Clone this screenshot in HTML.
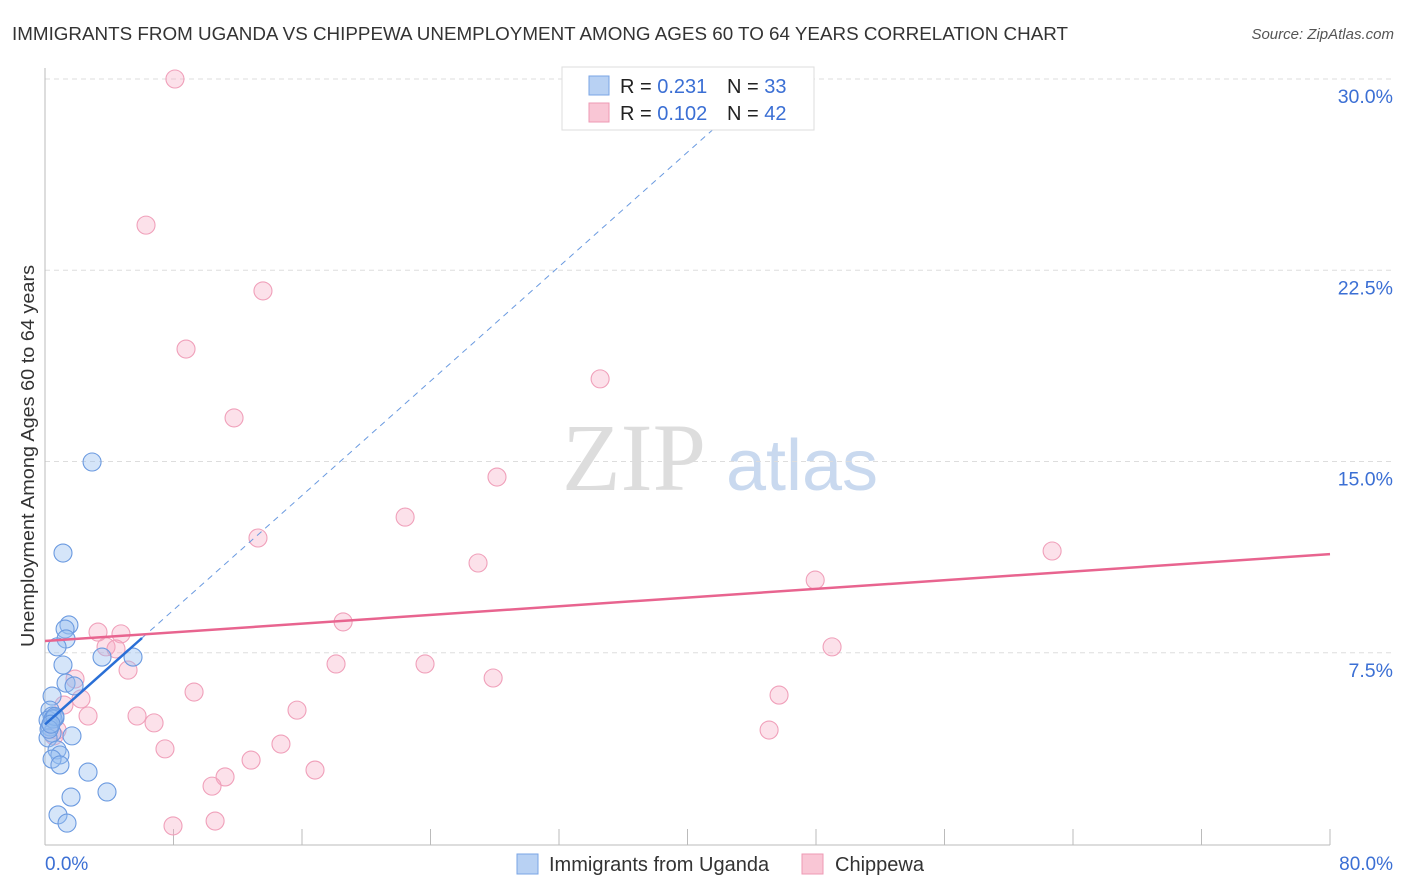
<!DOCTYPE html>
<html><head><meta charset="utf-8"><style>
body{margin:0;background:#fff;font-family:"Liberation Sans",sans-serif;}
svg{display:block}
</style></head><body>
<svg id="chart" width="1406" height="892" xmlns="http://www.w3.org/2000/svg">
<text x="12" y="40" font-size="18" fill="#333" textLength="1056" lengthAdjust="spacingAndGlyphs">IMMIGRANTS FROM UGANDA VS CHIPPEWA UNEMPLOYMENT AMONG AGES 60 TO 64 YEARS CORRELATION CHART</text>
<text x="1394" y="39" font-size="15" fill="#555" font-style="italic" text-anchor="end">Source: ZipAtlas.com</text>
<g>
<text x="634" y="490" font-size="96" fill="#ddd" font-family="Liberation Serif,serif" text-anchor="middle">ZIP</text>
<text x="802" y="490" font-size="72" fill="#c9d9ef" text-anchor="middle">atlas</text>
</g>
<g id="grid"></g>
<line x1="45" y1="68" x2="45" y2="845" stroke="#bbb"/>
<line x1="45" y1="845" x2="1330" y2="845" stroke="#bbb"/>
<text transform="translate(34,456) rotate(-90)" font-size="18" fill="#333" text-anchor="middle" textLength="382" lengthAdjust="spacingAndGlyphs">Unemployment Among Ages 60 to 64 years</text>
<text x="45" y="870" font-size="19" fill="#3b6fd4">0.0%</text>
<text x="1393" y="870" font-size="19" fill="#3b6fd4" text-anchor="end">80.0%</text>
<g id="marks"></g>
<g>
<rect x="562" y="67" width="252" height="63" fill="#fff" stroke="#ddd"/>
<rect x="589" y="76" width="20" height="19" fill="#b8d1f3" stroke="#7aa5e6"/>
<rect x="589" y="103" width="20" height="19" fill="#f9c6d5" stroke="#ee9ab4"/>
<text x="620" y="93" font-size="20" fill="#222">R = <tspan fill="#3b6fd4">0.231</tspan><tspan x="727">N = </tspan><tspan fill="#3b6fd4">33</tspan></text>
<text x="620" y="120" font-size="20" fill="#222">R = <tspan fill="#3b6fd4">0.102</tspan><tspan x="727">N = </tspan><tspan fill="#3b6fd4">42</tspan></text>
</g>
<g>
<rect x="517" y="854" width="21" height="20" fill="#b8d1f3" stroke="#7aa5e6"/>
<text x="549" y="871" font-size="20" fill="#333">Immigrants from Uganda</text>
<rect x="802" y="854" width="21" height="20" fill="#f9c6d5" stroke="#ee9ab4"/>
<text x="835" y="871" font-size="20" fill="#333">Chippewa</text>
</g>
</svg>
<script>
const yTicks=[7.5,15,22.5,30];
const yTickLabels=["7.5%","15.0%","22.5%","30.0%"];
const xTicks=[0,8,16,24,32,40,48,56,64,72,80];
const ugandaX=[2.93,1.12,1.49,1.25,1.31,0.75,1.12,3.55,5.48,1.31,1.81,0.44,0.31,0.44,0.62,0.19,0.31,0.44,0.19,1.68,0.75,0.93,0.44,0.93,2.68,3.86,1.62,0.81,1.37,0.5,0.62,0.25,0.37];
const ugandaY=[14.98,11.41,8.59,8.43,8.04,7.73,7.02,7.33,7.33,6.31,6.2,5.8,5.25,5.02,4.94,4.86,4.59,4.35,4.16,4.24,3.69,3.49,3.33,3.1,2.82,2.04,1.84,1.14,0.82,4.9,5.0,4.5,4.7];
const chipX=[8.09,6.29,13.57,8.78,11.77,34.56,28.14,22.42,13.26,26.96,62.7,47.95,18.56,3.3,4.73,3.8,4.42,5.17,49.0,18.12,23.66,27.9,1.87,9.28,2.24,45.7,1.18,2.68,5.73,6.79,15.69,0.75,0.56,45.08,7.47,14.69,12.83,11.21,10.4,16.81,7.97,10.59];
const chipY=[30.0,24.27,21.69,19.41,16.71,18.24,14.39,12.82,12.0,11.02,11.49,10.35,8.71,8.31,8.24,7.73,7.65,6.82,7.73,7.06,7.06,6.51,6.47,5.96,5.69,5.84,5.45,5.02,5.02,4.75,5.25,4.47,4.24,4.47,3.73,3.92,3.29,2.63,2.27,2.9,0.71,0.9];
const ugandaTrend=[4.69,0.561];
const chipTrend=[7.96,0.0426];
const NS="http://www.w3.org/2000/svg";
const sx=v=>45+v*16.0625, sy=v=>844-v*25.5;
const grid=document.getElementById('grid'), marks=document.getElementById('marks');
function mk(t,a,p){const e=document.createElementNS(NS,t);for(const k in a)e.setAttribute(k,a[k]);p.appendChild(e);return e;}
yTicks.forEach((t,i)=>{
 const l=mk('line',{x1:45,x2:1392,y1:sy(t),y2:sy(t),stroke:'#ddd','stroke-dasharray':'5,4'},grid);
 
 
 const tx=mk('text',{x:1393,y:sy(t)+24,'font-size':19.5,fill:'#3b6fd4','text-anchor':'end'},grid);
 tx.textContent=yTickLabels[i];
 
 
});
xTicks.forEach(t=>{
 const l=mk('line',{x1:sx(t),x2:sx(t),y1:829,y2:845,stroke:'#bbb'},grid);
 
 
});
chipX.forEach((x,i)=>{
 const c=mk('circle',{cx:sx(x),cy:sy(chipY[i]),r:9,fill:'rgba(246,170,195,0.35)',stroke:'#f0a0ba','stroke-width':1.1},marks);
 
 
});
ugandaX.forEach((x,i)=>{
 const c=mk('circle',{cx:sx(x),cy:sy(ugandaY[i]),r:9,fill:'rgba(150,190,240,0.4)',stroke:'#6b9ae0','stroke-width':1.1},marks);
 
 
});
const dash=mk('line',{x1:sx(6.04),y1:sy(ugandaTrend[0]+ugandaTrend[1]*6.04),x2:sx(45.1),y2:sy(ugandaTrend[0]+ugandaTrend[1]*45.1),stroke:'#6a9ae0','stroke-dasharray':'6,5','stroke-width':1},marks);


const bt=mk('line',{x1:sx(0),y1:sy(ugandaTrend[0]),x2:sx(6.04),y2:sy(ugandaTrend[0]+ugandaTrend[1]*6.04),stroke:'#2a6fd6','stroke-width':2.5},marks);


const pt=mk('line',{x1:sx(0),y1:sy(chipTrend[0]),x2:sx(80),y2:sy(chipTrend[0]+chipTrend[1]*80),stroke:'#e8648f','stroke-width':2.5},marks);


</script>
</body></html>
